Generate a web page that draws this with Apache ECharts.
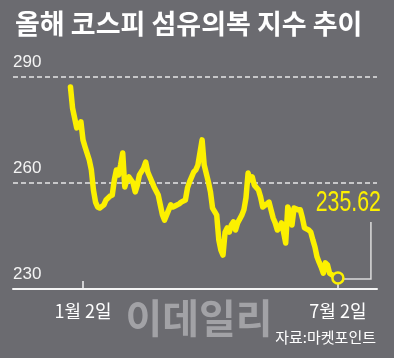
<!DOCTYPE html>
<html><head><meta charset="utf-8">
<script src="https://cdn.jsdelivr.net/npm/echarts@6/dist/echarts.min.js"></script>
<style>html,body{margin:0;padding:0;background:#6b6b70}#c{width:394px;height:358px}</style>
</head><body><div id="c"></div>
<script>
const titleText = '올해 코스피 섬유의복 지수 추이';
// trading-day offset from 1월 2일
const days = [-6,-5,-3,-1,0,1,3,4,5,6,7,8,10,11,13,14,15,16,17,18,19,20,21,22,24,25,26,27,29,30,31,32,33,34,36,37,38,39,41,42,43,44,46,47,49,50,51,53,54,55,57,58,60,61,62,64,65,66,67,68,69,70,71,72,73,74,76,77,78,79,80,81,82,84,85,86,88,89,90,91,92,93,94,95,96,97,98,99,100,101,103,104,105,106,108,109,110,111,112,113,114,115,116,117,118,120,122];
const values = [287.2,281.2,275.6,277.3,272.2,270.2,266.5,263.7,258.0,254.6,253.2,252.9,253.8,255.2,256.3,256.6,260.9,263.7,262.3,265.1,268.5,258.9,260.9,261.7,260.0,257.5,259.4,262.3,264.2,265.9,263.1,261.7,260.3,258.9,256.6,253.8,251.0,249.5,252.4,253.8,253.2,253.5,254.1,254.6,255.2,258.6,260.3,263.1,263.7,265.1,272.2,265.1,260.3,257.5,252.9,250.9,243.9,241.0,239.6,246.1,247.3,246.1,248.1,249.0,246.7,248.7,250.9,252.4,255.8,262.8,260.9,261.7,259.4,258.0,256.0,253.2,254.1,254.6,252.4,250.1,248.7,246.7,247.3,248.7,246.1,243.0,253.2,251.5,248.1,252.9,252.4,252.4,250.1,247.3,246.7,246.1,243.9,241.9,239.1,237.6,236.2,234.5,237.4,236.8,234.5,233.7,233.1];
const yTicks = [230, 260, 290];
const xTickDays = [0, 122];
const xTickLabels = ['1월 2일', '7월 2일'];
const lastLabel = '235.62';
const sourceText = '자료:마켓포인트';
const watermarkText = '이데일리';

const BG = '#6b6b70', Y = '#fcf000', W = '#f4f4f4';
const chart = echarts.init(document.getElementById('c'), null, {renderer: 'canvas'});
const last = days.length - 1;
const seriesData = days.map((d, i) => {
  const item = {value: [d, values[i]]};
  if (i === last) {
    item.symbol = 'circle'; item.symbolSize = 11;
    item.itemStyle = {color: BG, borderColor: Y, borderWidth: 2.5};
  }
  return item;
});
chart.setOption({
  backgroundColor: BG,
  animation: false,
  title: {text: titleText, left: 10, top: 5,
    textStyle: {color: '#fff', fontSize: 27, fontWeight: 'bold', fontFamily: 'Noto Sans CJK KR'}},
  grid: {left: 13, right: 17, top: 77, bottom: 69, outerBoundsMode: 'none', containLabel: false},
  xAxis: {type: 'value', min: -33.5, max: 140.7,
    axisLine: {show: true, lineStyle: {color: W, width: 2}},
    axisTick: {show: true, inside: true, length: 8, customValues: xTickDays, lineStyle: {color: W, width: 1.5}},
    axisLabel: {customValues: xTickDays, formatter: v => xTickLabels[xTickDays.indexOf(v)],
      color: '#fff', fontSize: 18, fontFamily: 'Noto Sans CJK KR', margin: 13},
    splitLine: {show: false}},
  yAxis: {type: 'value', min: yTicks[0], max: yTicks[yTicks.length - 1], interval: 30,
    axisLine: {show: false}, axisTick: {show: false},
    axisLabel: {inside: true, margin: 0, align: 'left', verticalAlign: 'bottom', padding: [0, 0, 6, 0],
      color: W, fontSize: 17, fontFamily: 'Liberation Sans'},
    splitLine: {lineStyle: {color: '#e6e6e6', type: [5, 3], width: 1.5}}},
  series: [{type: 'line', data: seriesData, showSymbol: true, showAllSymbol: true, symbol: 'none',
    lineStyle: {color: Y, width: 5.5, join: 'round', cap: 'round'}, itemStyle: {color: Y}, z: 3}]
});
const p = chart.convertToPixel({gridIndex: 0}, [days[last], values[last]]);
chart.setOption({
  graphic: [
    {type: 'text', z: -1, style: {text: watermarkText, x: 199, y: 318, align: 'center', verticalAlign: 'middle',
      font: 'bold 40px "Noto Sans CJK KR"', fill: '#a2a2a6'}},
    {type: 'polyline', z: 2, shape: {points: [[p[0] + 6, p[1] + 1], [p[0] + 33, p[1] + 1], [p[0] + 33, p[1] - 56]]},
      style: {stroke: '#dcdcdc', lineWidth: 1.5, fill: null}},
    {type: 'text', z: 5, x: p[0] + 43, y: p[1] - 60, scaleX: 0.71,
      style: {text: lastLabel, align: 'right', verticalAlign: 'bottom', font: '30px "Liberation Sans"', fill: Y}},
    {type: 'text', z: 5, x: 376, y: 337,
      style: {text: sourceText, align: 'right', verticalAlign: 'middle', font: '15px "Noto Sans CJK KR"', fill: '#fff'}}
  ]
});
</script></body></html>
